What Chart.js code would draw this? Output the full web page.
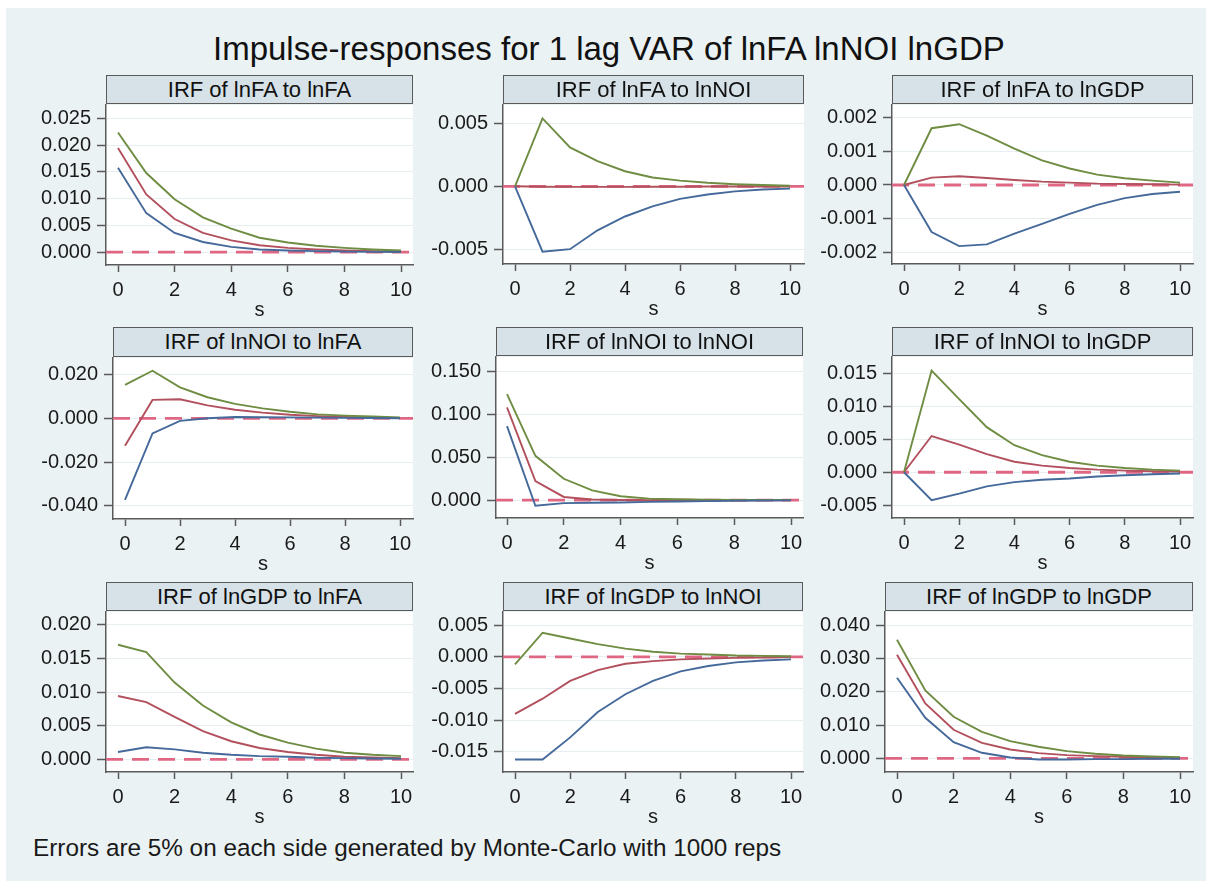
<!DOCTYPE html>
<html>
<head>
<meta charset="utf-8">
<script src="https://cdn.jsdelivr.net/npm/chart.js@4.4.1/dist/chart.umd.min.js"></script>
<style>
  body { margin:0; background:#ffffff; width:1206px; height:881px; overflow:hidden;
         font-family:"Liberation Sans", Arial, sans-serif; color:#1a1a1a; position:relative; }
  #bg { position:absolute; left:6px; top:8px; width:1200px; height:873px; background:#eaf2f3; }
  #title { position:absolute; left:213px; top:32px; font-size:33px; line-height:1; white-space:nowrap; color:#111; }
  #note { position:absolute; left:33px; top:836px; font-size:24.3px; line-height:1; white-space:nowrap; color:#1a1a1a; }
  .hdr { position:absolute; box-sizing:border-box; border:1.5px solid #5a5a5a; background:#d6e2e8;
         font-size:22px; display:flex; align-items:center; justify-content:center; white-space:nowrap; color:#111; z-index:5; }
  canvas { position:absolute; z-index:2; }
</style>
</head>
<body>
<div id="bg"></div>
<div id="title">Impulse-responses for 1 lag VAR of lnFA lnNOI lnGDP</div>
<div id="note">Errors are 5% on each side generated by Monte-Carlo with 1000 reps</div>
<script>
// ---------------- DATA ----------------
const steps = [0,1,2,3,4,5,6,7,8,9,10];
const xTicks = [0,2,4,6,8,10];

const hi_FA_FA  = [0.0224, 0.0148, 0.0099, 0.0065, 0.0044, 0.0027, 0.0018, 0.0012, 0.0008, 0.0005, 0.0003];
const irf_FA_FA = [0.0195, 0.0108, 0.0062, 0.0036, 0.0022, 0.0013, 0.0008, 0.0005, 0.0003, 0.0002, 0.0001];
const lo_FA_FA  = [0.0158, 0.0073, 0.0036, 0.0019, 0.0010, 0.0005, 0.0003, 0.0002, 0.0001, 0.00005, 0.00003];

const hi_FA_NOI  = [0, 0.0054, 0.0031, 0.0020, 0.0012, 0.0007, 0.00045, 0.00028, 0.00017, 0.0001, 0.00005];
const irf_FA_NOI = [0, -0.00003, -0.00004, -0.00004, -0.00004, -0.00003, -0.00003, -0.00002, -0.00002, -0.00001, -0.00001];
const lo_FA_NOI  = [0, -0.0052, -0.0050, -0.0035, -0.0024, -0.0016, -0.0010, -0.00065, -0.0004, -0.00025, -0.00018];

const hi_FA_GDP  = [0, 0.00169, 0.00181, 0.00147, 0.00108, 0.00073, 0.00049, 0.00031, 0.0002, 0.00013, 0.00007];
const irf_FA_GDP = [0, 0.00022, 0.00026, 0.00021, 0.00015, 0.0001, 0.00007, 0.00004, 0.00003, 0.00002, 0.00001];
const lo_FA_GDP  = [0, -0.0014, -0.00182, -0.00177, -0.00145, -0.00116, -0.00086, -0.00059, -0.00039, -0.00027, -0.0002];

const hi_NOI_FA  = [0.0153, 0.0217, 0.0141, 0.0096, 0.0066, 0.0045, 0.0030, 0.0018, 0.0012, 0.0008, 0.0004];
const irf_NOI_FA = [-0.0125, 0.0084, 0.0087, 0.0059, 0.0039, 0.0026, 0.0016, 0.0010, 0.0006, 0.0003, 0.0002];
const lo_NOI_FA  = [-0.0373, -0.0069, -0.0012, 0.0000, 0.0006, 0.0005, 0.0004, 0.0003, 0.0002, 0.0001, 0.0000];

const hi_NOI_NOI  = [0.1232, 0.0516, 0.0249, 0.0115, 0.0046, 0.0019, 0.0011, 0.0007, 0.0004, 0.0002, 0.0001];
const irf_NOI_NOI = [0.1079, 0.0222, 0.0038, 0.0008, 0.0002, 0.0001, 0, 0, 0, 0, 0];
const lo_NOI_NOI  = [0.0861, -0.0065, -0.0034, -0.0030, -0.0027, -0.0019, -0.0015, -0.0010, -0.0006, -0.0004, -0.0002];

const hi_NOI_GDP  = [0, 0.01545, 0.0111, 0.00685, 0.0041, 0.0026, 0.0016, 0.0010, 0.00065, 0.0004, 0.00025];
const irf_NOI_GDP = [0, 0.0055, 0.0042, 0.00275, 0.0016, 0.0010, 0.00065, 0.0004, 0.00025, 0.00015, 0.0001];
const lo_NOI_GDP  = [0, -0.00425, -0.00325, -0.00215, -0.0015, -0.00115, -0.00095, -0.00065, -0.00045, -0.0003, -0.0002];

const hi_GDP_FA  = [0.0170, 0.0159, 0.0114, 0.0080, 0.0055, 0.0037, 0.0025, 0.0016, 0.0010, 0.0007, 0.0005];
const irf_GDP_FA = [0.0094, 0.0085, 0.0063, 0.0042, 0.0027, 0.0017, 0.0011, 0.0007, 0.0004, 0.0003, 0.0002];
const lo_GDP_FA  = [0.0011, 0.0018, 0.0015, 0.0010, 0.0007, 0.0005, 0.0004, 0.00025, 0.0002, 0.00015, 0.0001];

const hi_GDP_NOI  = [-0.0012, 0.0038, 0.0029, 0.0020, 0.0013, 0.0008, 0.0005, 0.00036, 0.0002, 0.00015, 0.0001];
const irf_GDP_NOI = [-0.0090, -0.0066, -0.0038, -0.0021, -0.0011, -0.00067, -0.0004, -0.00026, -0.00016, -0.0001, -0.00005];
const lo_GDP_NOI  = [-0.0162, -0.0162, -0.0127, -0.0087, -0.0059, -0.0038, -0.0023, -0.00145, -0.00088, -0.00057, -0.0004];

const hi_GDP_GDP  = [0.0356, 0.0204, 0.0125, 0.0080, 0.0052, 0.0035, 0.0022, 0.0014, 0.0009, 0.0006, 0.0004];
const irf_GDP_GDP = [0.0311, 0.0165, 0.0086, 0.0047, 0.0027, 0.0016, 0.0010, 0.0007, 0.0005, 0.0003, 0.0002];
const lo_GDP_GDP  = [0.0242, 0.0122, 0.0049, 0.0017, 0.0003, -0.0003, -0.0003, -0.0002, -0.0002, -0.0001, -0.0001];

const yt_FA_FA   = [0, 0.005, 0.010, 0.015, 0.020, 0.025];
const yt_FA_NOI  = [-0.005, 0, 0.005];
const yt_FA_GDP  = [-0.002, -0.001, 0, 0.001, 0.002];
const yt_NOI_FA  = [-0.040, -0.020, 0, 0.020];
const yt_NOI_NOI = [0, 0.050, 0.100, 0.150];
const yt_NOI_GDP = [-0.005, 0, 0.005, 0.010, 0.015];
const yt_GDP_FA  = [0, 0.005, 0.010, 0.015, 0.020];
const yt_GDP_NOI = [-0.015, -0.010, -0.005, 0, 0.005];
const yt_GDP_GDP = [0, 0.010, 0.020, 0.030, 0.040];

const panels = [
  { title:"IRF of lnFA to lnFA",   lo:lo_FA_FA,   irf:irf_FA_FA,   hi:hi_FA_FA,   yt:yt_FA_FA },
  { title:"IRF of lnFA to lnNOI",  lo:lo_FA_NOI,  irf:irf_FA_NOI,  hi:hi_FA_NOI,  yt:yt_FA_NOI },
  { title:"IRF of lnFA to lnGDP",  lo:lo_FA_GDP,  irf:irf_FA_GDP,  hi:hi_FA_GDP,  yt:yt_FA_GDP },
  { title:"IRF of lnNOI to lnFA",  lo:lo_NOI_FA,  irf:irf_NOI_FA,  hi:hi_NOI_FA,  yt:yt_NOI_FA },
  { title:"IRF of lnNOI to lnNOI", lo:lo_NOI_NOI, irf:irf_NOI_NOI, hi:hi_NOI_NOI, yt:yt_NOI_NOI },
  { title:"IRF of lnNOI to lnGDP", lo:lo_NOI_GDP, irf:irf_NOI_GDP, hi:hi_NOI_GDP, yt:yt_NOI_GDP },
  { title:"IRF of lnGDP to lnFA",  lo:lo_GDP_FA,  irf:irf_GDP_FA,  hi:hi_GDP_FA,  yt:yt_GDP_FA },
  { title:"IRF of lnGDP to lnNOI", lo:lo_GDP_NOI, irf:irf_GDP_NOI, hi:hi_GDP_NOI, yt:yt_GDP_NOI },
  { title:"IRF of lnGDP to lnGDP", lo:lo_GDP_GDP, irf:irf_GDP_GDP, hi:hi_GDP_GDP, yt:yt_GDP_GDP }
];

// ---------------- LAYOUT (plot regions, axis ranges) ----------------
const layout = [
  { l:106, t:103, r:413,  b:265, ht:75,  x0:118, x10:401,  yMin:-0.0024,   yMax:0.02753 },
  { l:503, t:103, r:804,  b:264, ht:75,  x0:515, x10:790,  yMin:-0.00618,  yMax:0.00647 },
  { l:892, t:103, r:1193, b:264, ht:75,  x0:904, x10:1180, yMin:-0.002353, yMax:0.002382 },
  { l:113, t:356, r:413,  b:519, ht:327, x0:125, x10:400,  yMin:-0.0460,   yMax:0.02753 },
  { l:496, t:355, r:803,  b:518, ht:327, x0:507, x10:791,  yMin:-0.02066,  yMax:0.1664 },
  { l:892, t:355, r:1193, b:518, ht:327, x0:904, x10:1180, yMin:-0.00695,  yMax:0.017506 },
  { l:106, t:610, r:413,  b:772, ht:582, x0:118, x10:401,  yMin:-0.00186,  yMax:0.02186 },
  { l:503, t:610, r:803,  b:772, ht:582, x0:515, x10:791,  yMin:-0.01816,  yMax:0.00707 },
  { l:885, t:610, r:1193, b:772, ht:582, x0:897, x10:1180, yMin:-0.00406,  yMax:0.04394 }
];

const COL_LO = '#45699a', COL_IRF = '#b3505d', COL_HI = '#6f8d42', COL_ZERO = '#e06784';
const AXIS = '#5a5a5a', GRID = '#e6eef1', TXT = '#1a1a1a';
const FONT = '"Liberation Sans", Arial, sans-serif';
const YW = 100, XH = 60, PADT = 14, PADR = 20;

const whitePlot = {
  id:'whitePlot',
  beforeDraw(chart){
    const a = chart.chartArea, c = chart.ctx;
    c.save(); c.fillStyle = '#ffffff'; c.fillRect(a.left, a.top, a.right - a.left, a.bottom - a.top); c.restore();
  }
};

panels.forEach((p, i) => {
  const g = layout[i];
  const unit = (g.x10 - g.x0) / 10;
  const xMin = -(g.x0 - g.l) / unit;
  const xMax = 10 + (g.r - g.x10) / unit;

  const hdr = document.createElement('div');
  hdr.className = 'hdr';
  hdr.style.left = g.l + 'px';
  hdr.style.top = g.ht + 'px';
  hdr.style.width = (g.r - g.l) + 'px';
  hdr.style.height = (g.t - g.ht + 1) + 'px';
  hdr.textContent = p.title;
  document.body.appendChild(hdr);

  const cv = document.createElement('canvas');
  const W = YW + (g.r - g.l) + PADR;
  const H = PADT + (g.b - g.t) + XH;
  cv.width = W; cv.height = H;
  cv.style.left = (g.l - YW) + 'px';
  cv.style.top = (g.t - PADT) + 'px';
  cv.style.width = W + 'px'; cv.style.height = H + 'px';
  document.body.appendChild(cv);

  const pts = arr => steps.map((s, k) => ({ x: s, y: arr[k] }));
  const line = (arr, col) => ({ data: pts(arr), borderColor: col, borderWidth: 1.9, pointRadius: 0, tension: 0, fill: false });

  new Chart(cv.getContext('2d'), {
    type: 'line',
    data: {
      datasets: [
        line(p.lo, COL_LO),
        line(p.hi, COL_HI),
        line(p.irf, COL_IRF),
        { data: [{ x: xMin, y: 0 }, { x: xMax, y: 0 }], borderColor: COL_ZERO, borderWidth: 2.8,
          borderDash: [17, 9], pointRadius: 0, fill: false }
      ]
    },
    plugins: [whitePlot],
    options: {
      responsive: false, animation: false, devicePixelRatio: 1,
      layout: { padding: { top: PADT, right: PADR, left: 0, bottom: 0 } },
      plugins: { legend: { display: false }, tooltip: { enabled: false }, title: { display: false } },
      scales: {
        x: {
          type: 'linear', min: xMin, max: xMax,
          afterBuildTicks: s => { s.ticks = xTicks.map(v => ({ value: v })); },
          afterFit: s => { s.height = XH; },
          grid: { drawOnChartArea: false, drawTicks: true, tickLength: 7, tickColor: AXIS, tickWidth: 1.5 },
          border: { display: true, color: AXIS, width: 1.5 },
          ticks: { color: TXT, font: { family: FONT, size: 20, lineHeight: 1 }, padding: 8, maxRotation: 0,
                   autoSkip: false, callback: v => String(v) },
          title: { display: true, text: 's', color: TXT, font: { family: FONT, size: 20, lineHeight: 1 },
                   padding: { top: 0, bottom: 5 } }
        },
        y: {
          type: 'linear', min: g.yMin, max: g.yMax,
          afterBuildTicks: s => { s.ticks = p.yt.map(v => ({ value: v })); },
          afterFit: s => { s.width = YW; },
          grid: { drawOnChartArea: true, color: GRID, lineWidth: 1, drawTicks: true, tickLength: 9,
                  tickColor: AXIS, tickWidth: 1.5 },
          border: { display: true, color: AXIS, width: 1.5 },
          ticks: { color: TXT, font: { family: FONT, size: 20, lineHeight: 1 }, padding: 6, autoSkip: false,
                   callback: v => (v === 0 ? '0.000' : v.toFixed(3)) }
        }
      }
    }
  });
});
</script>
</body>
</html>
